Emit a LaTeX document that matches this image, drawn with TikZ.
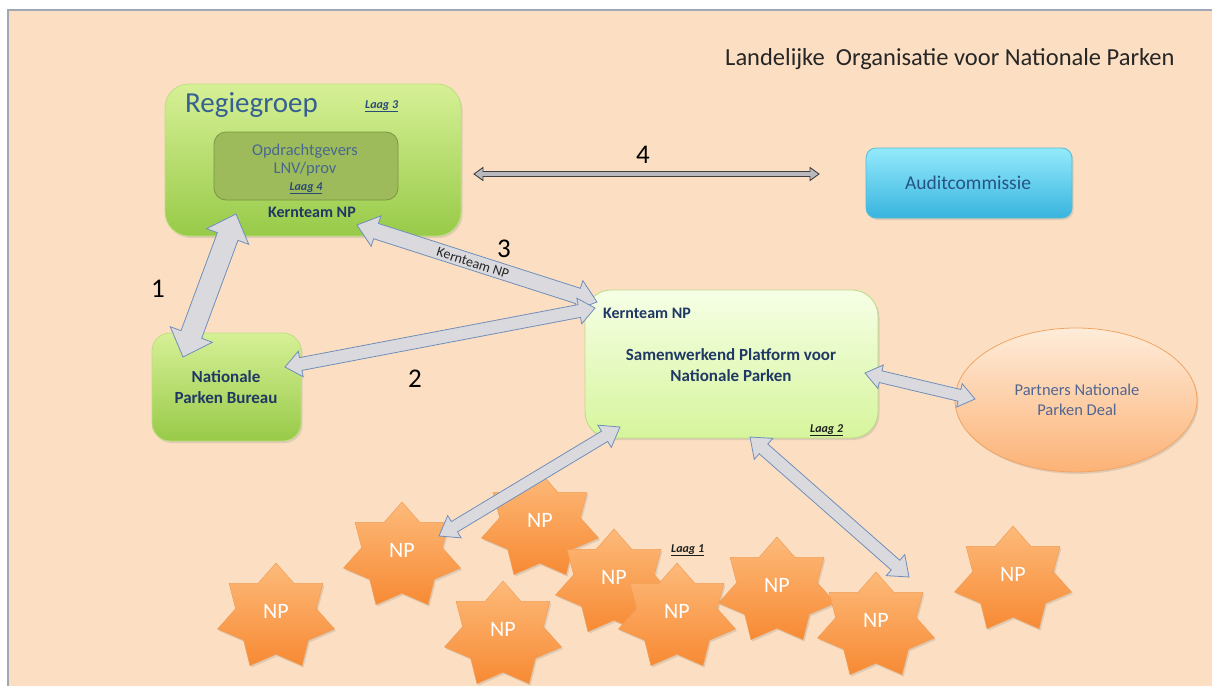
\documentclass[tikz,border=0pt]{standalone}
\usepackage{fontspec}
\setmainfont{Carlito}
\usetikzlibrary{calc,shadows,shapes.geometric}
\definecolor{bgpeach}{RGB}{252,223,194}
\definecolor{framecol}{RGB}{160,168,184}
\definecolor{gtop}{RGB}{214,240,150}
\definecolor{gbot}{RGB}{152,202,72}
\definecolor{gborder}{RGB}{190,222,130}
\definecolor{innerfill}{RGB}{157,187,90}
\definecolor{innerborder}{RGB}{122,150,66}
\definecolor{ptop}{RGB}{246,255,230}
\definecolor{pbot}{RGB}{214,245,156}
\definecolor{pborder}{RGB}{186,220,132}
\definecolor{atop}{RGB}{148,234,252}
\definecolor{abot}{RGB}{56,180,222}
\definecolor{aborder}{RGB}{86,186,216}
\definecolor{etop}{RGB}{254,236,218}
\definecolor{ebot}{RGB}{252,178,118}
\definecolor{eborder}{RGB}{240,165,100}
\definecolor{stop}{RGB}{253,186,122}
\definecolor{sbot}{RGB}{247,138,52}
\definecolor{sborder}{RGB}{240,158,88}
\definecolor{arrfill}{RGB}{218,218,222}
\definecolor{arrborder}{RGB}{112,142,186}
\definecolor{regiecol}{RGB}{55,96,146}
\definecolor{opdrcol}{RGB}{72,104,145}
\definecolor{navy}{RGB}{31,56,100}
\definecolor{auditcol}{RGB}{38,84,134}
\definecolor{partcol}{RGB}{82,102,146}
\definecolor{laagblue}{RGB}{44,74,118}
\definecolor{laagdark}{RGB}{30,30,30}

\newcommand\BlkArrow[6][]{%
  \coordinate (tA) at ($(#2)!#6!(#3)$);
  \coordinate (tB) at ($(#3)!#6!(#2)$);
  \filldraw[#1] (#2) -- ($(tA)!#5!90:(#3)$) -- ($(tA)!#4!90:(#3)$)
    -- ($(tB)!#4!-90:(#2)$) -- ($(tB)!#5!-90:(#2)$) -- (#3)
    -- ($(tB)!#5!90:(#2)$) -- ($(tB)!#4!90:(#2)$)
    -- ($(tA)!#4!-90:(#3)$) -- ($(tA)!#5!-90:(#3)$) -- cycle;
}
\newcommand\NPstar[3]{%
  \path[npstar] plot[variable=\k, samples at={0,...,13}]
    ({#2+60*(1-0.31*mod(\k,2))*cos(90+\k*360/14)},
     {#3-54*(1-0.31*mod(\k,2))*sin(90+\k*360/14)}) -- cycle;
  \node[nptext] (#1) at (#2,#3-6) {NP};
}

\begin{document}
\begin{tikzpicture}[x=1pt,y=-1pt,
  shad/.style={drop shadow={opacity=0.22, shadow xshift=1.5pt, shadow yshift=-2pt}},
  greenbox/.style={shad, rounded corners=24pt, draw=gborder, line width=0.8pt, top color=gtop, bottom color=gbot},
  innerbox/.style={rounded corners=12pt, draw=innerborder, line width=0.8pt, fill=innerfill},
  platbox/.style={shad, rounded corners=26pt, draw=pborder, line width=0.8pt, top color=ptop, bottom color=pbot},
  auditbox/.style={shad, rounded corners=10pt, draw=aborder, line width=0.8pt, top color=atop, bottom color=abot},
  partell/.style={shad, ellipse, draw=eborder, line width=0.8pt, top color=etop, bottom color=ebot},
  npstar/.style={shad, draw=sborder, line width=0.5pt, top color=stop, bottom color=sbot},
  nptext/.style={text=white, font=\fontsize{22}{26}\selectfont, inner sep=0pt},
  kern/.style={text=navy, font=\fontsize{16}{19}\selectfont\bfseries, inner sep=0pt},
  boldtxt/.style={text=navy, font=\fontsize{17}{20.5}\selectfont\bfseries, inner sep=0pt, align=center},
  laag/.style={font=\fontsize{12}{14}\selectfont\bfseries\itshape, inner sep=0pt},
  numtxt/.style={font=\fontsize{27}{30}\selectfont, text=black, inner sep=0pt},
  fatarrow/.style={fill=arrfill, draw=arrborder, line width=0.8pt},
  thinarrow/.style={fill=arrfill!85!black, draw=black!75, line width=0.9pt}
]
\useasboundingbox (0,0) rectangle (1212,686);
\fill[white] (0,0) rectangle (1212,686);
\fill[bgpeach] (8,10) rectangle (1212,686);
\draw[framecol, line width=1.5pt] (8,686) -- (8,10) -- (1212,10);

% title
\node[anchor=base west, inner sep=0pt, font=\fontsize{24.5}{28}\selectfont, text=black!85] (title) at (725,65) {Landelijke\ \ Organisatie voor Nationale Parken};

% boxes
\node[greenbox, minimum width=296pt, minimum height=152pt] (regie) at (313,160) {};
\node[innerbox, minimum width=184pt, minimum height=68pt] (opdr) at (306,166) {};
\node[greenbox, rounded corners=18pt, minimum width=149pt, minimum height=108pt] (npb) at (226.5,387) {};
\node[platbox, minimum width=293pt, minimum height=148pt] (plat) at (731.5,364) {};
\node[auditbox, minimum width=206pt, minimum height=70pt] (audit) at (969,183) {};
\node[partell, minimum width=242pt, minimum height=144pt] (partners) at (1076,400) {};

% box texts
\node[anchor=base west, inner sep=0pt, font=\fontsize{29}{34}\selectfont, text=regiecol] (regtxt) at (185,112) {Regiegroep};
\node[laag, text=laagblue, anchor=base west] (laag3) at (365,108) {\underline{Laag 3}};
\node[inner sep=0pt, align=center, font=\fontsize{16.5}{18.7}\selectfont, text=opdrcol] (opdrtxt) at (305,160) {Opdrachtgevers\\LNV/prov};
\node[laag, text=laagblue, anchor=base] (laag4) at (306,190) {\underline{Laag 4}};
\node[kern, anchor=base] (kern1) at (312,217) {Kernteam NP};
\node[kern, anchor=base west] (kern2) at (603,318) {Kernteam NP};
\node[boldtxt] (plattxt) at (731,365) {Samenwerkend Platform voor\\Nationale Parken};
\node[laag, text=laagdark, anchor=base west] (laag2) at (810,432) {\underline{Laag 2}};
\node[boldtxt] (npbtxt) at (226,387) {Nationale\\Parken Bureau};
\node[anchor=base, inner sep=0pt, font=\fontsize{19.5}{22}\selectfont, text=auditcol] (audtxt) at (968,189) {Auditcommissie};
\node[inner sep=0pt, align=center, font=\fontsize{16.5}{20}\selectfont, text=partcol] (parttxt) at (1077,400) {Partners Nationale\\Parken Deal};
\node[laag, text=laagdark, anchor=base west] (laag1) at (671,552) {\underline{Laag 1}};

% stars
\NPstar{npA}{276}{617}
\NPstar{npB}{402}{556}
\NPstar{npC}{540}{526}
\NPstar{npD}{503}{635}
\NPstar{npE}{614}{583}
\NPstar{npF}{677}{617}
\NPstar{npG}{777}{591}
\NPstar{npH}{876}{626}
\NPstar{npI}{1013}{580}

% arrow end points
\coordinate (a1s) at (183,357);
\coordinate (a1e) at (236,214);
\coordinate (a3s) at (357,225);
\coordinate (a3e) at (597,302);
\coordinate (a2s) at (285,367);
\coordinate (a2e) at (595,308);
\coordinate (a5s) at (865,373);
\coordinate (a5e) at (975,399);
\coordinate (a6s) at (620,427);
\coordinate (a6e) at (439,536);
\coordinate (a7s) at (750,437);
\coordinate (a7e) at (909,577);
\coordinate (a4s) at (474,174);
\coordinate (a4e) at (819,174);

\BlkArrow[fatarrow]{a1s}{a1e}{11pt}{22.5pt}{24pt}
\BlkArrow[fatarrow]{a3s}{a3e}{8pt}{16pt}{20pt}
\BlkArrow[fatarrow]{a2s}{a2e}{6.5pt}{13pt}{16pt}
\BlkArrow[fatarrow]{a5s}{a5e}{6pt}{12pt}{16pt}
\BlkArrow[fatarrow]{a6s}{a6e}{6pt}{13pt}{18pt}
\BlkArrow[fatarrow]{a7s}{a7e}{6.5pt}{14pt}{18pt}
\BlkArrow[thinarrow]{a4s}{a4e}{2.5pt}{6.5pt}{9pt}

% arrow labels
\node[inner sep=0pt, rotate=-17.8, font=\fontsize{14}{16}\selectfont, text=black!85] (kern3) at (473,263) {Kernteam NP};
\node[numtxt, anchor=base] (n1) at (158,297) {1};
\node[numtxt, anchor=base] (n2) at (415,387) {2};
\node[numtxt, anchor=base] (n3) at (504,257) {3};
\node[numtxt, anchor=base] (n4) at (643,163) {4};
\end{tikzpicture}
\end{document}
